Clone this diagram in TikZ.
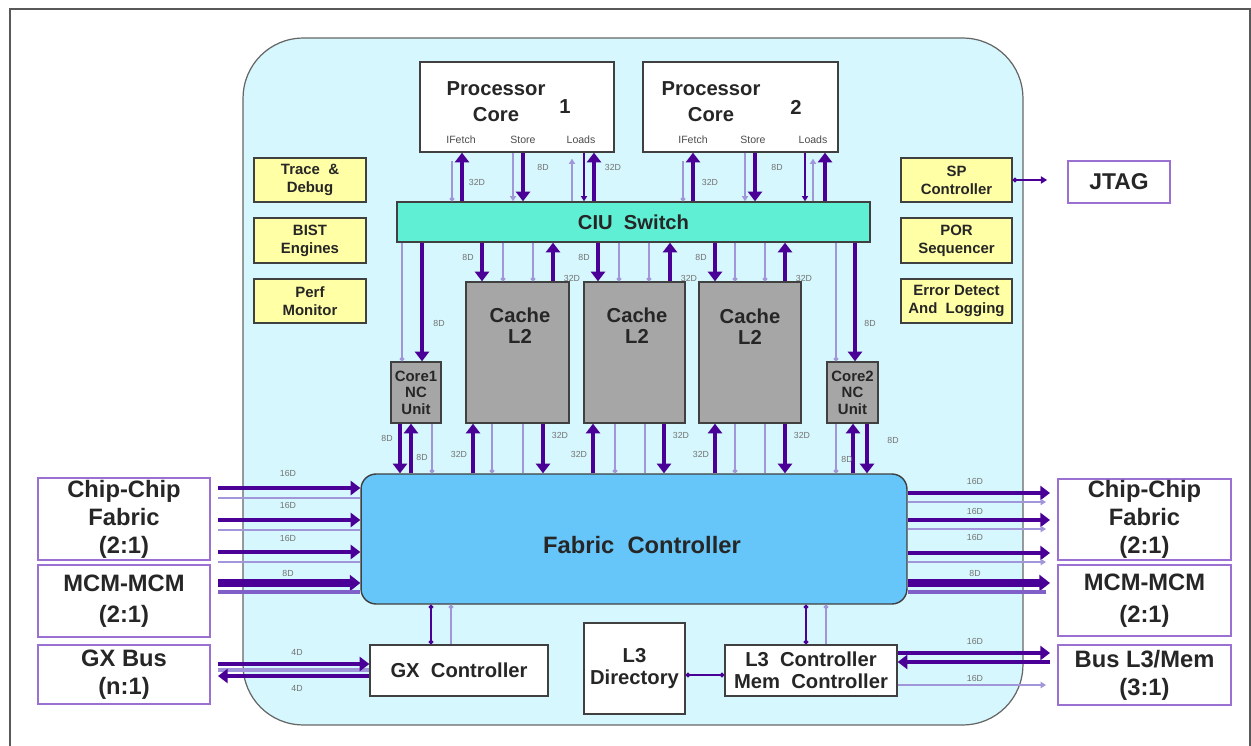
\documentclass[tikz,border=0pt]{standalone}
\usepackage{fontspec}
\setmainfont{Liberation Sans}
\usetikzlibrary{arrows.meta,calc}
\definecolor{dpur}{HTML}{4A0096}
\definecolor{lpur}{HTML}{A296DA}
\definecolor{mpur}{HTML}{7F60C8}
\definecolor{bpur}{HTML}{9A70D2}
\definecolor{chipc}{HTML}{D6F7FD}
\definecolor{ciuc}{HTML}{5FEFD4}
\definecolor{yelc}{HTML}{FFFFA6}
\definecolor{cachec}{HTML}{A6A6A6}
\definecolor{fabc}{HTML}{66C6FA}
\definecolor{txt}{HTML}{262626}
\begin{document}
\begin{tikzpicture}[x=0.02cm,y=-0.02cm,
  box/.style={draw=black!75,line width=0.8pt,inner sep=0pt,align=center,text=txt,font=\bfseries},
  pbox/.style={draw=bpur,line width=1pt,fill=white,inner sep=0pt,align=center,text=txt,
     font=\bfseries\fontsize{13.5}{16}\selectfont,minimum width=3.44cm},
  ybox/.style={box,fill=yelc,minimum width=2.24cm,font=\bfseries\fontsize{8.5}{10.2}\selectfont},
  cbox/.style={box,fill=cachec,minimum height=2.82cm},
  nbox/.style={box,fill=cachec,minimum height=1.22cm,font=\bfseries\fontsize{8.5}{9.4}\selectfont},
  ttl/.style={inner sep=0pt,align=center,text=txt,font=\bfseries\fontsize{11.5}{14.7}\selectfont},
  plbl/.style={inner sep=0pt,text=black!70,font=\fontsize{6}{7}\selectfont},
  lbl/.style={inner sep=0pt,text=black!55,font=\fontsize{5}{6}\selectfont},
  thk/.style={draw=dpur,line width=2.8pt},
  thn/.style={draw=lpur,line width=1.1pt},
  thd/.style={draw=dpur,line width=0.9pt},
  tp/.style={-{Triangle[width=8pt,length=5.5pt]}},
  tpl/.style={{Triangle[width=8pt,length=5.5pt]}-},
  tps/.style={-{Triangle[width=3.5pt,length=3pt]}},
  dt/.style={{Circle[length=2.6pt]}-},
  dd/.style={{Circle[length=2.6pt]}-{Circle[length=2.6pt]}}]
\useasboundingbox (0,0) rectangle (1251,746);
\fill[white] (0,0) rectangle (1251,746);
\draw[black!65,line width=1.2pt] (10,746) -- (10,9) -- (1250,9) -- (1250,746);

% chip
\node[box,draw=black!60,line width=0.7pt,fill=chipc,minimum width=15.6cm,minimum height=13.74cm,rounded corners=1.2cm] (chip) at (633,381.5) {};

% processor cores
\node[box,fill=white,minimum width=3.88cm,minimum height=1.8cm] (core1) at (517,107) {};
\node[box,fill=white,minimum width=3.9cm,minimum height=1.8cm] (core2) at (740.5,107) {};
\node[ttl] (c1t) at (496,102) {Processor\\Core};
\node[ttl] (c1n) at (565,107) {1};
\node[ttl] (c2t) at (711,102) {Processor\\Core};
\node[ttl] (c2n) at (796,107) {2};
\node[plbl] (c1a) at (461,140) {IFetch};
\node[plbl] (c1b) at (523,140) {Store};
\node[plbl] (c1c) at (581,140) {Loads};
\node[plbl] (c2a) at (693,140) {IFetch};
\node[plbl] (c2b) at (753,140) {Store};
\node[plbl] (c2c) at (813,140) {Loads};

% CIU
\node[box,fill=ciuc,minimum width=9.46cm,minimum height=0.8cm,font=\bfseries\fontsize{11.5}{13}\selectfont] (ciu) at (633.5,222) {CIU\ \ Switch};

% yellow boxes
\node[ybox,minimum height=0.88cm] (trace) at (310,180) {Trace\ \ \&\\Debug};
\node[ybox,minimum height=0.9cm] (bist) at (310,240.5) {BIST\\Engines};
\node[ybox,minimum height=0.88cm] (perf) at (310,301) {Perf\\Monitor};
\node[ybox,minimum width=2.22cm,minimum height=0.88cm] (sp) at (956.5,180) {SP\\Controller};
\node[ybox,minimum width=2.22cm,minimum height=0.9cm] (por) at (956.5,240.5) {POR\\Sequencer};
\node[ybox,minimum width=2.22cm,minimum height=0.88cm] (err) at (956.5,301) {Error Detect\\And\ \ Logging};

% JTAG
\node[pbox,minimum width=2.04cm,minimum height=0.84cm,font=\bfseries\fontsize{13}{15}\selectfont] (jtag) at (1119,182) {JTAG};

% caches
\node[cbox,minimum width=2.06cm] (cache1) at (517.5,352.5) {};
\node[cbox,minimum width=2.02cm] (cache2) at (634.5,352.5) {};
\node[cbox,minimum width=2.04cm] (cache3) at (750,352.5) {};
\node[ttl,font=\bfseries\fontsize{11.5}{12}\selectfont] (k1) at (520,326) {Cache\\L2};
\node[ttl,font=\bfseries\fontsize{11.5}{12}\selectfont] (k2) at (637,326) {Cache\\L2};
\node[ttl,font=\bfseries\fontsize{11.5}{12}\selectfont] (k3) at (750,327) {Cache\\L2};

% NC units
\node[nbox,minimum width=1.0cm] (nc1) at (416,392.5) {Core1\\NC\\Unit};
\node[nbox,minimum width=1.02cm] (nc2) at (852.5,392.5) {Core2\\NC\\Unit};

% fabric
\node[box,fill=fabc,minimum width=10.92cm,minimum height=2.6cm,rounded corners=0.3cm,font=\bfseries\fontsize{13.5}{16}\selectfont] (fabric) at (634,539) {};
\node[ttl,font=\bfseries\fontsize{13.5}{16}\selectfont] (fabt) at (642,545) {Fabric\ \ Controller};

% side boxes
\node[pbox,minimum height=1.64cm] (ccL) at (124,519) {Chip-Chip\\Fabric\\(2:1)};
\node[pbox,minimum height=1.44cm,font=\bfseries\fontsize{13.5}{18}\selectfont] (mcmL) at (124,601) {MCM-MCM\\(2:1)};
\node[pbox,minimum height=1.18cm] (gxL) at (124,674.5) {GX Bus\\(n:1)};
\node[pbox,minimum width=3.46cm,minimum height=1.62cm] (ccR) at (1144.5,519.5) {Chip-Chip\\Fabric\\(2:1)};
\node[pbox,minimum width=3.46cm,minimum height=1.42cm,font=\bfseries\fontsize{13.5}{18}\selectfont] (mcmR) at (1144.5,600.5) {MCM-MCM\\(2:1)};
\node[pbox,minimum width=3.46cm,minimum height=1.2cm] (busR) at (1144.5,675) {Bus L3/Mem\\(3:1)};

% bottom boxes
\node[box,fill=white,minimum width=3.56cm,minimum height=1.02cm,font=\bfseries\fontsize{11.5}{13}\selectfont] (gxc) at (459,670.5) {GX\ \ Controller};
\node[box,fill=white,minimum width=2.02cm,minimum height=1.82cm,font=\bfseries\fontsize{11.5}{13}\selectfont] (l3d) at (634.5,668.5) {L3\\Directory};
\node[box,fill=white,minimum width=3.44cm,minimum height=1.02cm,font=\bfseries\fontsize{11.5}{12.5}\selectfont] (l3c) at (811,670.5) {L3\ \ Controller\\Mem\ \ Controller};

\coordinate (lx) at (218,0);
\coordinate (rx) at (1050,0);

% ---- core1 <-> CIU
\draw[thn,dt] (452,0 |- ciu.north) -- ($(452,0 |- core1.south)+(0,8)$);
\draw[thk,tp] (462,0 |- ciu.north) -- (462,0 |- core1.south);
\draw[thn,tps] (513,0 |- core1.south) -- (513,0 |- ciu.north);
\draw[thk,tp] (523,0 |- core1.south) -- (523,0 |- ciu.north);
\draw[thn,tps] (572,0 |- ciu.north) -- ($(572,0 |- core1.south)+(0,6)$);
\draw[thd,tps] (584,0 |- core1.south) -- (584,0 |- ciu.north);
\draw[thk,tp] (594,0 |- ciu.north) -- (594,0 |- core1.south);
\node[lbl] at (477,182) {32D};
\node[lbl] at (543,167) {8D};
\node[lbl] at (613,167) {32D};
% ---- core2 <-> CIU
\draw[thn,dt] (683,0 |- ciu.north) -- ($(683,0 |- core2.south)+(0,8)$);
\draw[thk,tp] (693,0 |- ciu.north) -- (693,0 |- core2.south);
\draw[thn,tps] (745,0 |- core2.south) -- (745,0 |- ciu.north);
\draw[thk,tp] (755,0 |- core2.south) -- (755,0 |- ciu.north);
\draw[thd,tps] (805,0 |- core2.south) -- (805,0 |- ciu.north);
\draw[thn,tps] (813,0 |- ciu.north) -- ($(813,0 |- core2.south)+(0,6)$);
\draw[thk,tp] (825,0 |- ciu.north) -- (825,0 |- core2.south);
\node[lbl] at (710,182) {32D};
\node[lbl] at (777,167) {8D};

% ---- CIU -> NC / caches
\draw[thn,dt] (402,0 |- nc1.north) -- (402,0 |- ciu.south);
\draw[thk,tp] (422,0 |- ciu.south) -- (422,0 |- nc1.north);
\node[lbl] at (439,323) {8D};
\draw[thn,dt] (836,0 |- nc2.north) -- (836,0 |- ciu.south);
\draw[thk,tp] (855,0 |- ciu.south) -- (855,0 |- nc2.north);
\node[lbl] at (870,323) {8D};
\foreach \a/\b/\c/\d/\n in {482/503/533/553/cache1,598/619/649/670/cache2,715/735/765/785/cache3}{
  \draw[thk,tp] (\a,0 |- ciu.south) -- (\a,0 |- \n.north);
  \draw[thn,dt] (\b,0 |- \n.north) -- (\b,0 |- ciu.south);
  \draw[thn,dt] (\c,0 |- \n.north) -- (\c,0 |- ciu.south);
  \draw[thk,tp] (\d,0 |- \n.north) -- (\d,0 |- ciu.south);
  \node[lbl] at (\a-14,257) {8D};
  \node[lbl] at (\d+19,278) {32D};
}

% ---- NC / caches -> fabric
\draw[thk,tp] (400,0 |- nc1.south) -- (400,0 |- fabric.north);
\draw[thk,tp] (411,0 |- fabric.north) -- (411,0 |- nc1.south);
\draw[thn,dt] (432,0 |- fabric.north) -- (432,0 |- nc1.south);
\node[lbl] at (387,438) {8D};
\node[lbl] at (422,457) {8D};
\draw[thn,dt] (836,0 |- fabric.north) -- (836,0 |- nc2.south);
\draw[thk,tp] (853,0 |- fabric.north) -- (853,0 |- nc2.south);
\draw[thk,tp] (867,0 |- nc2.south) -- (867,0 |- fabric.north);
\node[lbl] at (893,440) {8D};
\node[lbl] at (847,459) {8D};
\foreach \a/\b/\c/\d/\n in {473/492/523/543/cache1,593/615/645/664/cache2,715/735/765/785/cache3}{
  \draw[thk,tp] (\a,0 |- fabric.north) -- (\a,0 |- \n.south);
  \draw[thn,dt] (\b,0 |- fabric.north) -- (\b,0 |- \n.south);
  \draw[thn] (\c,0 |- fabric.north) -- (\c,0 |- \n.south);
  \draw[thk,tp] (\d,0 |- \n.south) -- (\d,0 |- fabric.north);
  \node[lbl] at (\a-14,454) {32D};
  \node[lbl] at (\d+17,435) {32D};
}

% ---- left links
\foreach \y in {488,520,552}{
  \draw[thk,tp] (lx |- 0,\y) -- (fabric.west |- 0,\y);
  \draw[thn] (lx |- 0,\y+10) -- (fabric.west |- 0,\y+10);
}
\draw[draw=dpur,line width=4pt,-{Triangle[width=9pt,length=6pt]}] (lx |- 0,583) -- (fabric.west |- 0,583);
\draw[draw=mpur,line width=2.6pt] (lx |- 0,592) -- (fabric.west |- 0,592);
\node[lbl] at (288,473) {16D};
\node[lbl] at (288,505) {16D};
\node[lbl] at (288,538) {16D};
\node[lbl] at (288,573) {8D};
% GX bus
\draw[draw=lpur,line width=2pt] (lx |- 0,670) -- (gxc.west |- 0,670);
\draw[thk,tp] (lx |- 0,664) -- (gxc.west |- 0,664);
\draw[thk,tpl] (lx |- 0,676) -- (gxc.west |- 0,676);
\node[lbl] at (297,652) {4D};
\node[lbl] at (297,688) {4D};

% ---- right links
\foreach \y in {493,520,553}{
  \draw[thk,tp] (fabric.east |- 0,\y) -- (rx |- 0,\y);
  \draw[thn,tps] (fabric.east |- 0,\y+9) -- ($(rx |- 0,\y+9)+(-4,0)$);
}
\draw[draw=dpur,line width=4pt,-{Triangle[width=9pt,length=6pt]}] (fabric.east |- 0,583) -- (rx |- 0,583);
\draw[draw=mpur,line width=2.6pt] (fabric.east |- 0,592) -- ($(rx |- 0,592)+(-4,0)$);
\node[lbl] at (975,481) {16D};
\node[lbl] at (975,511) {16D};
\node[lbl] at (975,537) {16D};
\node[lbl] at (975,573) {8D};
% Bus L3/Mem
\draw[thk,tp] (l3c.east |- 0,653) -- (rx |- 0,653);
\draw[thk,tp] (rx |- 0,662) -- (l3c.east |- 0,662);
\draw[thn,tps] (l3c.east |- 0,685) -- ($(rx |- 0,685)+(-4,0)$);
\node[lbl] at (975,641) {16D};
\node[lbl] at (975,678) {16D};

% ---- bottom links
\draw[thd,dd] (431,0 |- fabric.south) -- (431,0 |- gxc.north);
\draw[thn,dt] (451,0 |- fabric.south) -- (451,0 |- gxc.north);
\draw[thd,dd] (806,0 |- fabric.south) -- (806,0 |- l3c.north);
\draw[thn,dt] (826,0 |- fabric.south) -- (826,0 |- l3c.north);
\draw[thd,dd] (l3d.east |- 0,675) -- (l3c.west |- 0,675);

% SP -> JTAG
\draw[thd,{Circle[length=2.6pt]}-{Triangle[width=4pt,length=3.5pt]}] (sp.east) -- ($(jtag.west)+(-20,-2)$);
\end{tikzpicture}
\end{document}
